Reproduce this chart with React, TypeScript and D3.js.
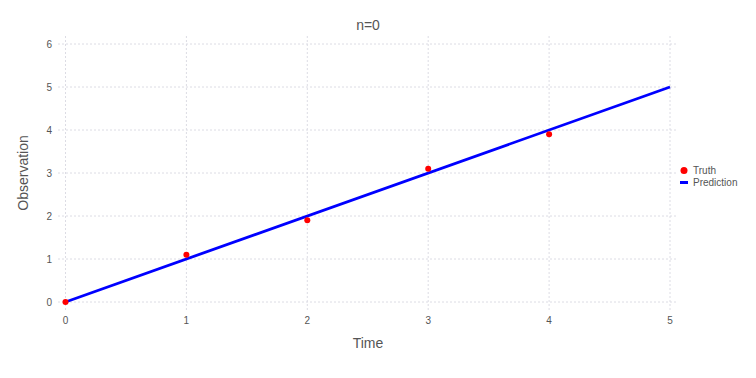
import React from "react";
import * as d3 from "d3";

const truthX = [0, 1, 2, 3, 4];
const truthY = [0, 1.1, 1.9, 3.1, 3.9];
const predX = [0, 5];
const predY = [0, 5];
const xTicks = [0, 1, 2, 3, 4, 5];
const yTicks = [0, 1, 2, 3, 4, 5, 6];

const W = 756, H = 378;

export default function App() {
  const x = d3.scaleLinear().domain([0, 5]).range([65.5, 670]);
  const y = d3.scaleLinear().domain([0, 6]).range([302, 44]);
  const line = d3.line<number>().x((d, i) => x(predX[i])).y((d, i) => y(predY[i]));
  const font = "'Liberation Sans', Arial, Helvetica, sans-serif";
  const gridColor = "#dcdce4";
  const textColor = "#555";
  const left = 58, right = 677, top = 36, bottom = 312;
  return (
    <svg width={W} height={H} style={{ position: "absolute", left: 0, top: 0 }} fontFamily={font}>
      <rect width={W} height={H} fill="#fff" />
      {xTicks.map((t) => (
        <line key={"gx" + t} x1={x(t)} x2={x(t)} y1={top} y2={bottom} stroke={gridColor} strokeWidth={1} strokeDasharray="2,2" />
      ))}
      {yTicks.map((t) => (
        <line key={"gy" + t} x1={left} x2={right} y1={y(t)} y2={y(t)} stroke={gridColor} strokeWidth={1} strokeDasharray="2,2" />
      ))}
      {xTicks.map((t) => (
        <text key={"tx" + t} x={x(t)} y={324} textAnchor="middle" fontSize={10} fill={textColor}>{t}</text>
      ))}
      {yTicks.map((t) => (
        <text key={"ty" + t} x={52} y={y(t) + 3.5} textAnchor="end" fontSize={10} fill={textColor}>{t}</text>
      ))}
      <path d={line(predX) || ""} fill="none" stroke="#0000ff" strokeWidth={2.8} />
      {truthX.map((v, i) => (
        <circle key={"p" + i} cx={x(v)} cy={y(truthY[i])} r={3} fill="#ff0000" />
      ))}
      <text x={368} y={30} textAnchor="middle" fontSize={14} fill={textColor}>n=0</text>
      <text x={368} y={348} textAnchor="middle" fontSize={14} fill={textColor}>Time</text>
      <text transform="translate(28,173) rotate(-90)" textAnchor="middle" fontSize={14} fill={textColor}>Observation</text>
      <circle cx={684} cy={170.5} r={3.5} fill="#ff0000" />
      <text x={693} y={174} fontSize={10} fill={textColor}>Truth</text>
      <line x1={680} x2={688} y1={182.5} y2={182.5} stroke="#0000ff" strokeWidth={3} />
      <text x={693} y={186} fontSize={10} fill={textColor}>Prediction</text>
    </svg>
  );
}
